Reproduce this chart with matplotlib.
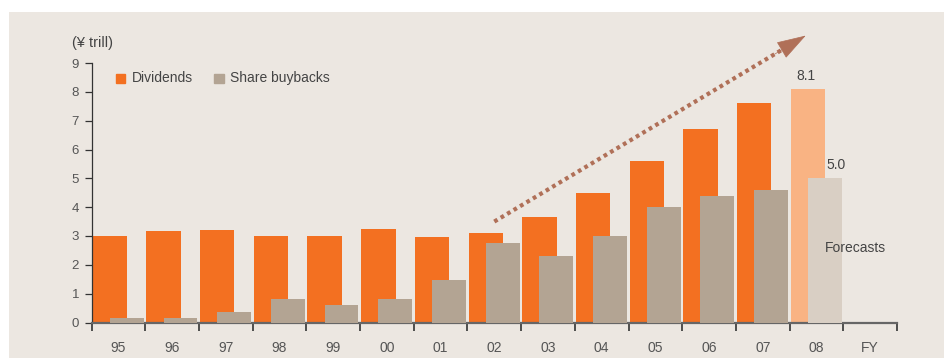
import numpy as np
import matplotlib
matplotlib.use('Agg')
import matplotlib.pyplot as plt
from matplotlib.patches import Rectangle

# fiscal years, last slot only carries the "FY" label
years = ['95', '96', '97', '98', '99', '00', '01', '02', '03', '04', '05', '06', '07', '08', 'FY']
dividends = [3.0, 3.17, 3.2, 3.0, 3.0, 3.25, 2.95, 3.1, 3.65, 4.5, 5.6, 6.7, 7.6, 8.1]
buybacks = [0.15, 0.15, 0.35, 0.8, 0.6, 0.8, 1.47, 2.75, 2.3, 3.0, 4.0, 4.4, 4.6, 5.0]
n_forecast = 1  # last year is forecast

arrow_start = (7.5, 3.5)
arrow_end = (13.3, 9.95)

bg = '#ECE7E1'
c_div = '#F37021'
c_buy = '#B3A493'
c_div_f = '#F9B383'
c_buy_f = '#D9CFC4'
txt = '#444444'
axc = '#666666'

plt.rcParams['font.family'] = ['Liberation Sans', 'DejaVu Sans']

fig = plt.figure(figsize=(9.45, 3.58), dpi=100)
fig.patch.set_facecolor('white')
fig.patches.append(Rectangle((9 / 945, 0), 1, (358 - 12) / 358, transform=fig.transFigure,
                             facecolor=bg, edgecolor='none', zorder=-10))

ax = fig.add_axes([91.6 / 945, 35.5 / 358, (897 - 91.6) / 945, (295 - 35.5) / 358])
ax.set_facecolor('none')

x = np.arange(len(dividends))
nh = len(dividends) - n_forecast
cd = [c_div] * nh + [c_div_f] * n_forecast
cb = [c_buy] * nh + [c_buy_f] * n_forecast
ax.bar(x + 0.02, dividends, width=0.64, align='edge', color=cd, zorder=2)
ax.bar(x + 0.34, buybacks, width=0.63, align='edge', color=cb, zorder=3)

ax.set_xlim(0, len(years))
ax.set_ylim(0, 9)

for s in ['top', 'right']:
    ax.spines[s].set_visible(False)
ax.spines['left'].set_color('#333333')
ax.spines['bottom'].set_color(axc)
ax.spines['bottom'].set_linewidth(1.6)
ax.spines['left'].set_linewidth(0.9)

ax.set_yticks(range(10))
ax.tick_params(axis='y', length=5, width=0.9, color='#333333', labelsize=9.5,
               labelcolor='#555555', pad=4)
ax.set_xticks(range(len(years) + 1))
ax.set_xticklabels([])
ax.set_xticks(np.arange(len(years)) + 0.5, minor=True)
ax.set_xticklabels(years, minor=True)
ax.tick_params(axis='x', which='major', length=6, width=1.2, color='#333333', direction='out')
ax.tick_params(axis='x', which='minor', length=0, labelsize=10, labelcolor='#555555', pad=13)

# titles / labels
fig.text(72 / 945, 1 - 43 / 358, '(\u00a5 trill)', fontsize=10.5, color=txt, va='center')

# legend
ax.add_patch(Rectangle((0.45, 8.3), 0.18, 0.33, color=c_div, clip_on=False))
ax.text(0.75, 8.47, 'Dividends', fontsize=10, color=txt, va='center')
ax.add_patch(Rectangle((2.28, 8.3), 0.18, 0.33, color=c_buy, clip_on=False))
ax.text(2.58, 8.47, 'Share buybacks', fontsize=10, color=txt, va='center')

ax.text(13.31, dividends[-1] + 0.22, f'{dividends[-1]:.1f}', ha='center', va='bottom',
        fontsize=10, color=txt)
ax.text(13.87, buybacks[-1] + 0.22, f'{buybacks[-1]:.1f}', ha='center', va='bottom',
        fontsize=10, color=txt)
ax.text(13.65, 2.6, 'Forecasts', fontsize=10, color=txt, va='center')

# trend arrow
ac = '#B07058'
dx = arrow_end[0] - arrow_start[0]
dy = arrow_end[1] - arrow_start[1]
t = 0.93
ax.plot([arrow_start[0], arrow_start[0] + dx * t], [arrow_start[1], arrow_start[1] + dy * t],
        color=ac, lw=3, ls=(0, (0.9, 0.9)), clip_on=False, zorder=4)
ax.annotate('', xy=arrow_end, xytext=(arrow_start[0] + dx * 0.9, arrow_start[1] + dy * 0.9),
            arrowprops=dict(arrowstyle='-|>,head_length=1.2,head_width=0.38', color=ac,
                            lw=0.5, shrinkA=0, shrinkB=0, mutation_scale=16),
            annotation_clip=False, zorder=5)

fig.savefig('out.png', dpi=100, facecolor=fig.get_facecolor())
